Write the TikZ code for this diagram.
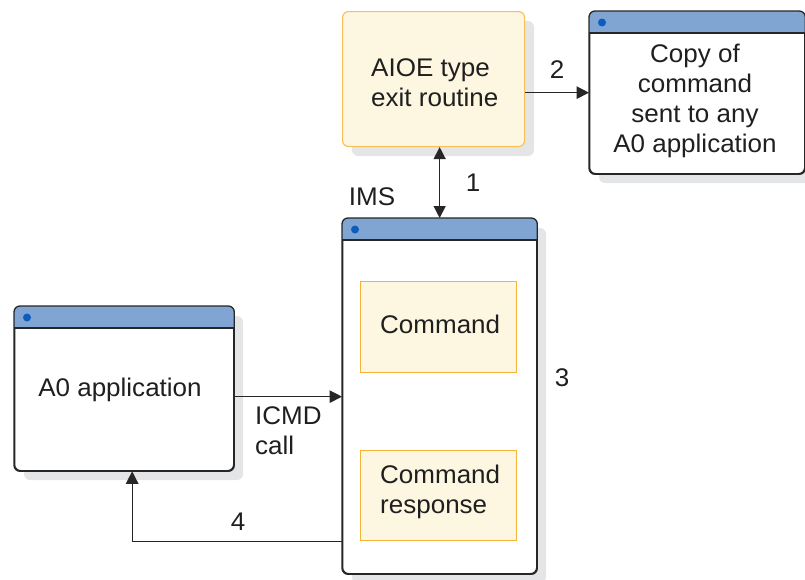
\documentclass[tikz,border=0pt]{standalone}
\usepackage{fontspec}
\setmainfont{Liberation Sans}[FakeStretch=1.02]
\usetikzlibrary{arrows.meta,calc}
\definecolor{hdrblue}{HTML}{81A5D3}
\definecolor{dotblue}{HTML}{0F5CBF}
\definecolor{shadowgray}{HTML}{E4E5E7}
\definecolor{ylwfill}{HTML}{FDF7E1}
\definecolor{orgline}{HTML}{F7B23B}
\tikzset{
  winbody/.style={draw=black!85, line width=1.3pt, fill=white, rounded corners=6pt, anchor=north west, inner sep=0pt},
  winshadow/.style={fill=shadowgray, rounded corners=6pt},
  ylwbox/.style={draw=orgline, line width=1.2pt, fill=ylwfill, anchor=north west, inner sep=0pt},
  txt/.style={font=\fontsize{25.5}{30}\selectfont, text=black!88, inner sep=0pt},
  arr/.style={line width=1.3pt, draw=black!85, -{Triangle[length=12.5pt,width=12.5pt]}},
  dblarr/.style={line width=1.3pt, draw=black!85, {Triangle[length=12pt,width=12pt]}-{Triangle[length=12pt,width=12pt]}},
}
\newcommand\winheader[1]{%
  \begin{scope}
    \clip[rounded corners=6pt] (#1.south west) rectangle (#1.north east);
    \fill[hdrblue] (#1.north west) rectangle ([yshift=-22pt]#1.north east);
  \end{scope}
  \draw[black!85, line width=1.3pt] ([yshift=-22pt]#1.north west) -- ([yshift=-22pt]#1.north east);
  \draw[black!85, line width=1.3pt, rounded corners=6pt] (#1.south west) rectangle (#1.north east);
  \fill[dotblue] ([xshift=13pt,yshift=-11.5pt]#1.north west) circle (4pt);
}
\begin{document}
\begin{tikzpicture}[x=1pt,y=-1pt]
\useasboundingbox (0,0) rectangle (805,579);
% shadows
\fill[winshadow] (352,21) rectangle (534,156);
\fill[winshadow] (599,21) rectangle (814,183);
\fill[winshadow] (352,228) rectangle (546,583);
\fill[winshadow] (24,316) rectangle (243,480);
% AIOE box
\node[draw=orgline!85, line width=1.1pt, fill=ylwfill, rounded corners=6pt, anchor=north west, inner sep=0pt,
      minimum width=182pt, minimum height=135pt] (aioe) at (342,11) {};
\node[txt, align=left, anchor=west] (aioetxt) at (371,82.5) {AIOE type\\exit routine};
% Copy box
\node[winbody, minimum width=215pt, minimum height=162pt] (copy) at (589,11) {};
\winheader{copy}
\node[txt, align=center] (copytxt) at (695,101) {Copy of\\command\\sent to any\\A0 application};
% IMS box
\node[winbody, minimum width=194pt, minimum height=355pt] (ims) at (342,218) {};
\winheader{ims}
\node[ylwbox, minimum width=156pt, minimum height=91pt] (cmd) at (360,281) {};
\node[txt, align=left, anchor=west] (cmdtxt) at (380,324) {Command};
\node[ylwbox, minimum width=156pt, minimum height=90pt] (resp) at (360,450) {};
\node[txt, align=left, anchor=west] (resptxt) at (380,492) {Command\\response};
% A0 application box
\node[winbody, minimum width=219pt, minimum height=164pt] (a0) at (14,306) {};
\winheader{a0}
\node[txt] (a0txt) at (120,390) {A0 application};
% connectors
\draw[arr] (aioe.east |- copy.west) -- (copy.west);
\draw[dblarr] (aioe.south -| ims.north) -- (ims.north);
\draw[arr] ([yshift=-8pt]a0.east) -- ([yshift=-8pt]a0.east -| ims.west);
\draw[arr] (ims.west |- resp.south) -| ([xshift=8pt]a0.south);
% labels
\node[txt] (l2) at (557,70) {2};
\node[txt] (l1) at (473,183) {1};
\node[txt] (lims) at (372,197) {IMS};
\node[txt, align=left, anchor=west] (licmd) at (255,431) {ICMD\\call};
\node[txt] (l3) at (562,378) {3};
\node[txt] (l4) at (238,522) {4};
\end{tikzpicture}
\end{document}
